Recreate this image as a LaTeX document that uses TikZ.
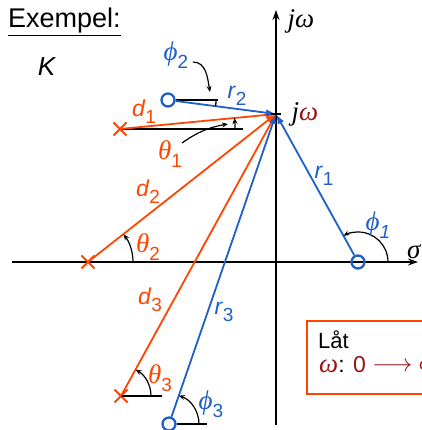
\documentclass[tikz,border=0pt]{standalone}
\usepackage{fontspec}
\setmainfont{Liberation Sans}
\newfontfamily\grf{Liberation Serif}
\usetikzlibrary{arrows.meta,shapes.misc}
\definecolor{pr}{RGB}{255,69,0}
\definecolor{zb}{RGB}{30,95,200}
\definecolor{dr}{RGB}{150,20,20}
\newcommand\subs[1]{\raisebox{-0.55ex}{\fontsize{19}{19}\selectfont #1}}
\newcommand\gk[1]{{\grf\itshape #1}}
\newcommand\gfont{\fontsize{27}{29}\selectfont}
\begin{document}
\begin{tikzpicture}[x=1pt,y=1pt,
  axis/.style={line width=1.8pt, -{Stealth[length=10pt,width=7pt]}},
  pole/.style={cross out, draw=pr, line width=2pt, minimum size=11pt, inner sep=0pt},
  zero/.style={circle, draw=zb, line width=2.3pt, minimum size=13pt, inner sep=0pt},
  dvec/.style={pr, line width=1.8pt, -{Latex[length=10pt,width=7pt]}},
  rvec/.style={zb, line width=1.8pt, -{Latex[length=10pt,width=7pt]}},
  refl/.style={black, line width=1.3pt},
  ang/.style={black, line width=1.2pt, -{Stealth[length=6pt,width=5pt]}},
  lab/.style={font=\fontsize{23}{25}\selectfont, inner sep=0pt},
  glab/.style={font=\gfont, inner sep=0pt},
]
\useasboundingbox (0,0) rectangle (421,430);
% axes
\coordinate (xa) at (12,168);
\coordinate (xb) at (418,168);
\coordinate (ya) at (276,5);
\coordinate (yb) at (276,420);
\draw[axis] (xa) -- (xb);
\draw[axis] (ya) -- (yb);
% point j omega
\coordinate (P) at (276,316);
% poles and zeros
\node[zero] (z1) at (358,168) {};
\node[zero] (z2) at (168,330) {};
\node[zero] (z3) at (169,6) {};
\node[pole] (p1) at (120,301) {};
\node[pole] (p2) at (88,168) {};
\node[pole] (p3) at (121,34) {};
% reference lines
\coordinate (p1r) at (243,301);
\coordinate (z2r) at (218,330);
\coordinate (p3r) at (162,34);
\coordinate (z3r) at (207,6);
\draw[refl] (p1.center) -- (p1r);
\draw[refl] (z2.east) -- (z2r);
\draw[refl] (p3.center) -- (p3r);
\draw[refl] (z3.east) -- (z3r);
% vectors
\draw[dvec] (p1.center) -- (P);
\draw[dvec] (p2.center) -- (P);
\draw[dvec] (p3.center) -- (P);
\draw[rvec] (z2) -- (P);
\draw[rvec] (z1) -- (P);
\draw[rvec] (z3) -- (P);
\draw[line width=1.8pt] ([xshift=-5pt]P) -- ([xshift=5pt]P);
% angle arcs
\draw[ang] ([xshift=45pt]p2.center) arc[start angle=0,end angle=38,radius=45];
\draw[ang] ([xshift=30pt]p3.center) arc[start angle=0,end angle=61,radius=30];
\draw[ang] ([xshift=30pt]z3.center) arc[start angle=0,end angle=71,radius=30];
\draw[ang] ([xshift=30pt]z1.center) arc[start angle=0,end angle=119,radius=30];
\draw[ang] ([xshift=115pt]p1.center) arc[start angle=0,end angle=5.5,radius=115];
\draw[refl] ([xshift=48pt]z2.center) arc[start angle=0,end angle=-7.4,radius=48];
% pointer arrows
\coordinate (f2s) at (193,368);
\coordinate (f2e) at (210,338);
\draw[ang] (f2s) to[out=0,in=100] (f2e);
\coordinate (t1s) at (182,287);
\coordinate (t1e) at (228,306);
\draw[ang] (t1s) to[out=35,in=190] (t1e);
% labels
\node[anchor=base west, inner sep=0pt, font=\fontsize{27}{29}\selectfont] (ex) at (8,402) {\underline{Exempel:}};
\node[inner sep=0pt, font=\fontsize{26}{28}\selectfont] (K) at (47,363) {\textit{K}};
\node[glab, text=zb] (lphi2) at (176,375) {\gk{ϕ}\subs{2}};
\node[lab, text=zb] (lr2) at (237,334) {\textit{r}\subs{2}};
\node[lab, text=pr] (ld1) at (144,318) {\textit{d}\subs{1}};
\node[glab, text=pr] (lth1) at (170,276) {\gk{θ}\subs{1}};
\node[lab, text=pr] (ld2) at (148,238) {\textit{d}\subs{2}};
\node[glab, text=pr] (lth2) at (148,183) {\gk{θ}\subs{2}};
\node[lab, text=pr] (ld3) at (150,130) {\textit{d}\subs{3}};
\node[glab, text=pr] (lth3) at (160,52) {\gk{θ}\subs{3}};
\node[glab, text=zb] (lphi3) at (211,26) {\gk{ϕ}\subs{3}};
\node[lab, text=zb] (lr3) at (224,118) {\textit{r}\subs{3}};
\node[lab, text=zb] (lr1) at (324,254) {\textit{r}\subs{1}};
\node[glab, text=zb] (lphi1) at (378,205) {\gk{ϕ}\subs{\textit{1}}};
\node[glab] (ljw) at (305,316) {\gk{j}\textcolor{dr}{\gk{ω}}};
\node[glab] (ljwa) at (301,409) {\gk{jω}};
\node[glab, anchor=west] (lsig) at (407,178) {\gk{σ}};
% box
\coordinate (bx1) at (307,109);
\coordinate (bx2) at (440,36);
\draw[pr, line width=2.5pt] (bx1) rectangle (bx2);
\node[anchor=base west, inner sep=0pt, font=\fontsize{22}{24}\selectfont] (lat) at (318,81) {Låt};
\node[anchor=base west, inner sep=0pt, font=\fontsize{23}{25}\selectfont] (wl) at (319,57) {\textcolor{dr}{{\fontsize{27}{27}\selectfont\gk{ω}}}: \textcolor{dr}{0 \raisebox{0.1ex}{$\longrightarrow$} ∞}};
\end{tikzpicture}
\end{document}
